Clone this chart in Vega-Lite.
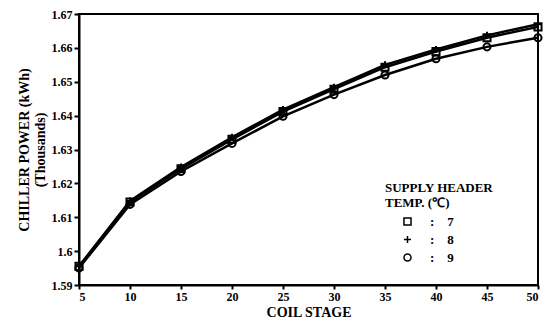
{
  "$schema": "https://vega.github.io/schema/vega-lite/v6.json",
  "width": 459,
  "height": 271,
  "autosize": {"type": "none"},
  "padding": {"left": 79, "top": 14, "right": 5, "bottom": 38},
  "background": "white",
  "config": {
    "font": "Liberation Serif",
    "view": {"stroke": "black", "strokeWidth": 2},
    "axis": {
      "domainColor": "black", "domainWidth": 2, "tickColor": "black", "tickWidth": 2,
      "labelFont": "Liberation Serif", "labelFontWeight": "bold", "labelFontSize": 12, "labelColor": "black",
      "titleFont": "Liberation Serif", "titleFontWeight": "bold", "titleColor": "black",
      "grid": false
    }
  },
  "data": {
    "values": [
      {"stage": 5, "temp": "7", "power": 1.5955},
      {"stage": 10, "temp": "7", "power": 1.6145},
      {"stage": 15, "temp": "7", "power": 1.6243},
      {"stage": 20, "temp": "7", "power": 1.6330},
      {"stage": 25, "temp": "7", "power": 1.6412},
      {"stage": 30, "temp": "7", "power": 1.6478},
      {"stage": 35, "temp": "7", "power": 1.6543},
      {"stage": 40, "temp": "7", "power": 1.6589},
      {"stage": 45, "temp": "7", "power": 1.6630},
      {"stage": 50, "temp": "7", "power": 1.6662},
      {"stage": 5, "temp": "8", "power": 1.5955},
      {"stage": 10, "temp": "8", "power": 1.6148},
      {"stage": 15, "temp": "8", "power": 1.6248},
      {"stage": 20, "temp": "8", "power": 1.6336},
      {"stage": 25, "temp": "8", "power": 1.6418},
      {"stage": 30, "temp": "8", "power": 1.6484},
      {"stage": 35, "temp": "8", "power": 1.6550},
      {"stage": 40, "temp": "8", "power": 1.6595},
      {"stage": 45, "temp": "8", "power": 1.6637},
      {"stage": 50, "temp": "8", "power": 1.6670},
      {"stage": 5, "temp": "9", "power": 1.5950},
      {"stage": 10, "temp": "9", "power": 1.6138},
      {"stage": 15, "temp": "9", "power": 1.6235},
      {"stage": 20, "temp": "9", "power": 1.6318},
      {"stage": 25, "temp": "9", "power": 1.6398},
      {"stage": 30, "temp": "9", "power": 1.6462},
      {"stage": 35, "temp": "9", "power": 1.6520},
      {"stage": 40, "temp": "9", "power": 1.6568},
      {"stage": 45, "temp": "9", "power": 1.6603},
      {"stage": 50, "temp": "9", "power": 1.6630}
    ]
  },
  "encoding": {
    "x": {
      "field": "stage", "type": "quantitative",
      "scale": {"domain": [5, 50], "nice": false, "zero": false},
      "axis": {"values": [5, 10, 15, 20, 25, 30, 35, 40, 45, 50], "title": "COIL STAGE", "titleFontSize": 14, "titlePadding": 3, "tickSize": 4, "labelPadding": 2}
    },
    "y": {
      "field": "power", "type": "quantitative",
      "scale": {"domain": [1.59, 1.67], "nice": false, "zero": false},
      "axis": {
        "values": [1.59, 1.6, 1.61, 1.62, 1.63, 1.64, 1.65, 1.66, 1.67],
        "labelExpr": "toString(round(datum.value * 100) / 100)",
        "title": ["CHILLER POWER (kWh)", "(Thousands)"],
        "titleFontSize": 14, "titlePadding": 4, "tickSize": 5, "labelPadding": 2
      }
    }
  },
  "layer": [
    {
      "mark": {"type": "line", "color": "black", "strokeWidth": 2.5},
      "encoding": {"detail": {"field": "temp"}}
    },
    {
      "mark": {"type": "point", "color": "black", "filled": false, "strokeWidth": 2, "size": 50, "opacity": 1},
      "encoding": {
        "shape": {
          "field": "temp", "type": "nominal",
          "scale": {"domain": ["7", "8", "9"], "range": ["square", "M-1,0H1M0,-1V1", "circle"]},
          "legend": {
            "title": ["SUPPLY HEADER", "TEMP. (℃)"],
            "orient": "none", "legendX": 306, "legendY": 168,
            "titleFont": "Liberation Serif", "titleFontWeight": "bold", "titleFontSize": 13, "titleColor": "black",
            "labelFont": "Liberation Serif", "labelFontWeight": "bold", "labelFontSize": 13, "labelColor": "black",
            "labelExpr": "':\u00a0\u00a0\u00a0\u00a0' + datum.label",
            "symbolStrokeColor": "black", "symbolStrokeWidth": 1.5, "symbolSize": 50, "symbolOffset": 16,
            "padding": 0, "offset": 0, "rowPadding": 3, "labelOffset": 16
          }
        }
      }
    }
  ]
}
